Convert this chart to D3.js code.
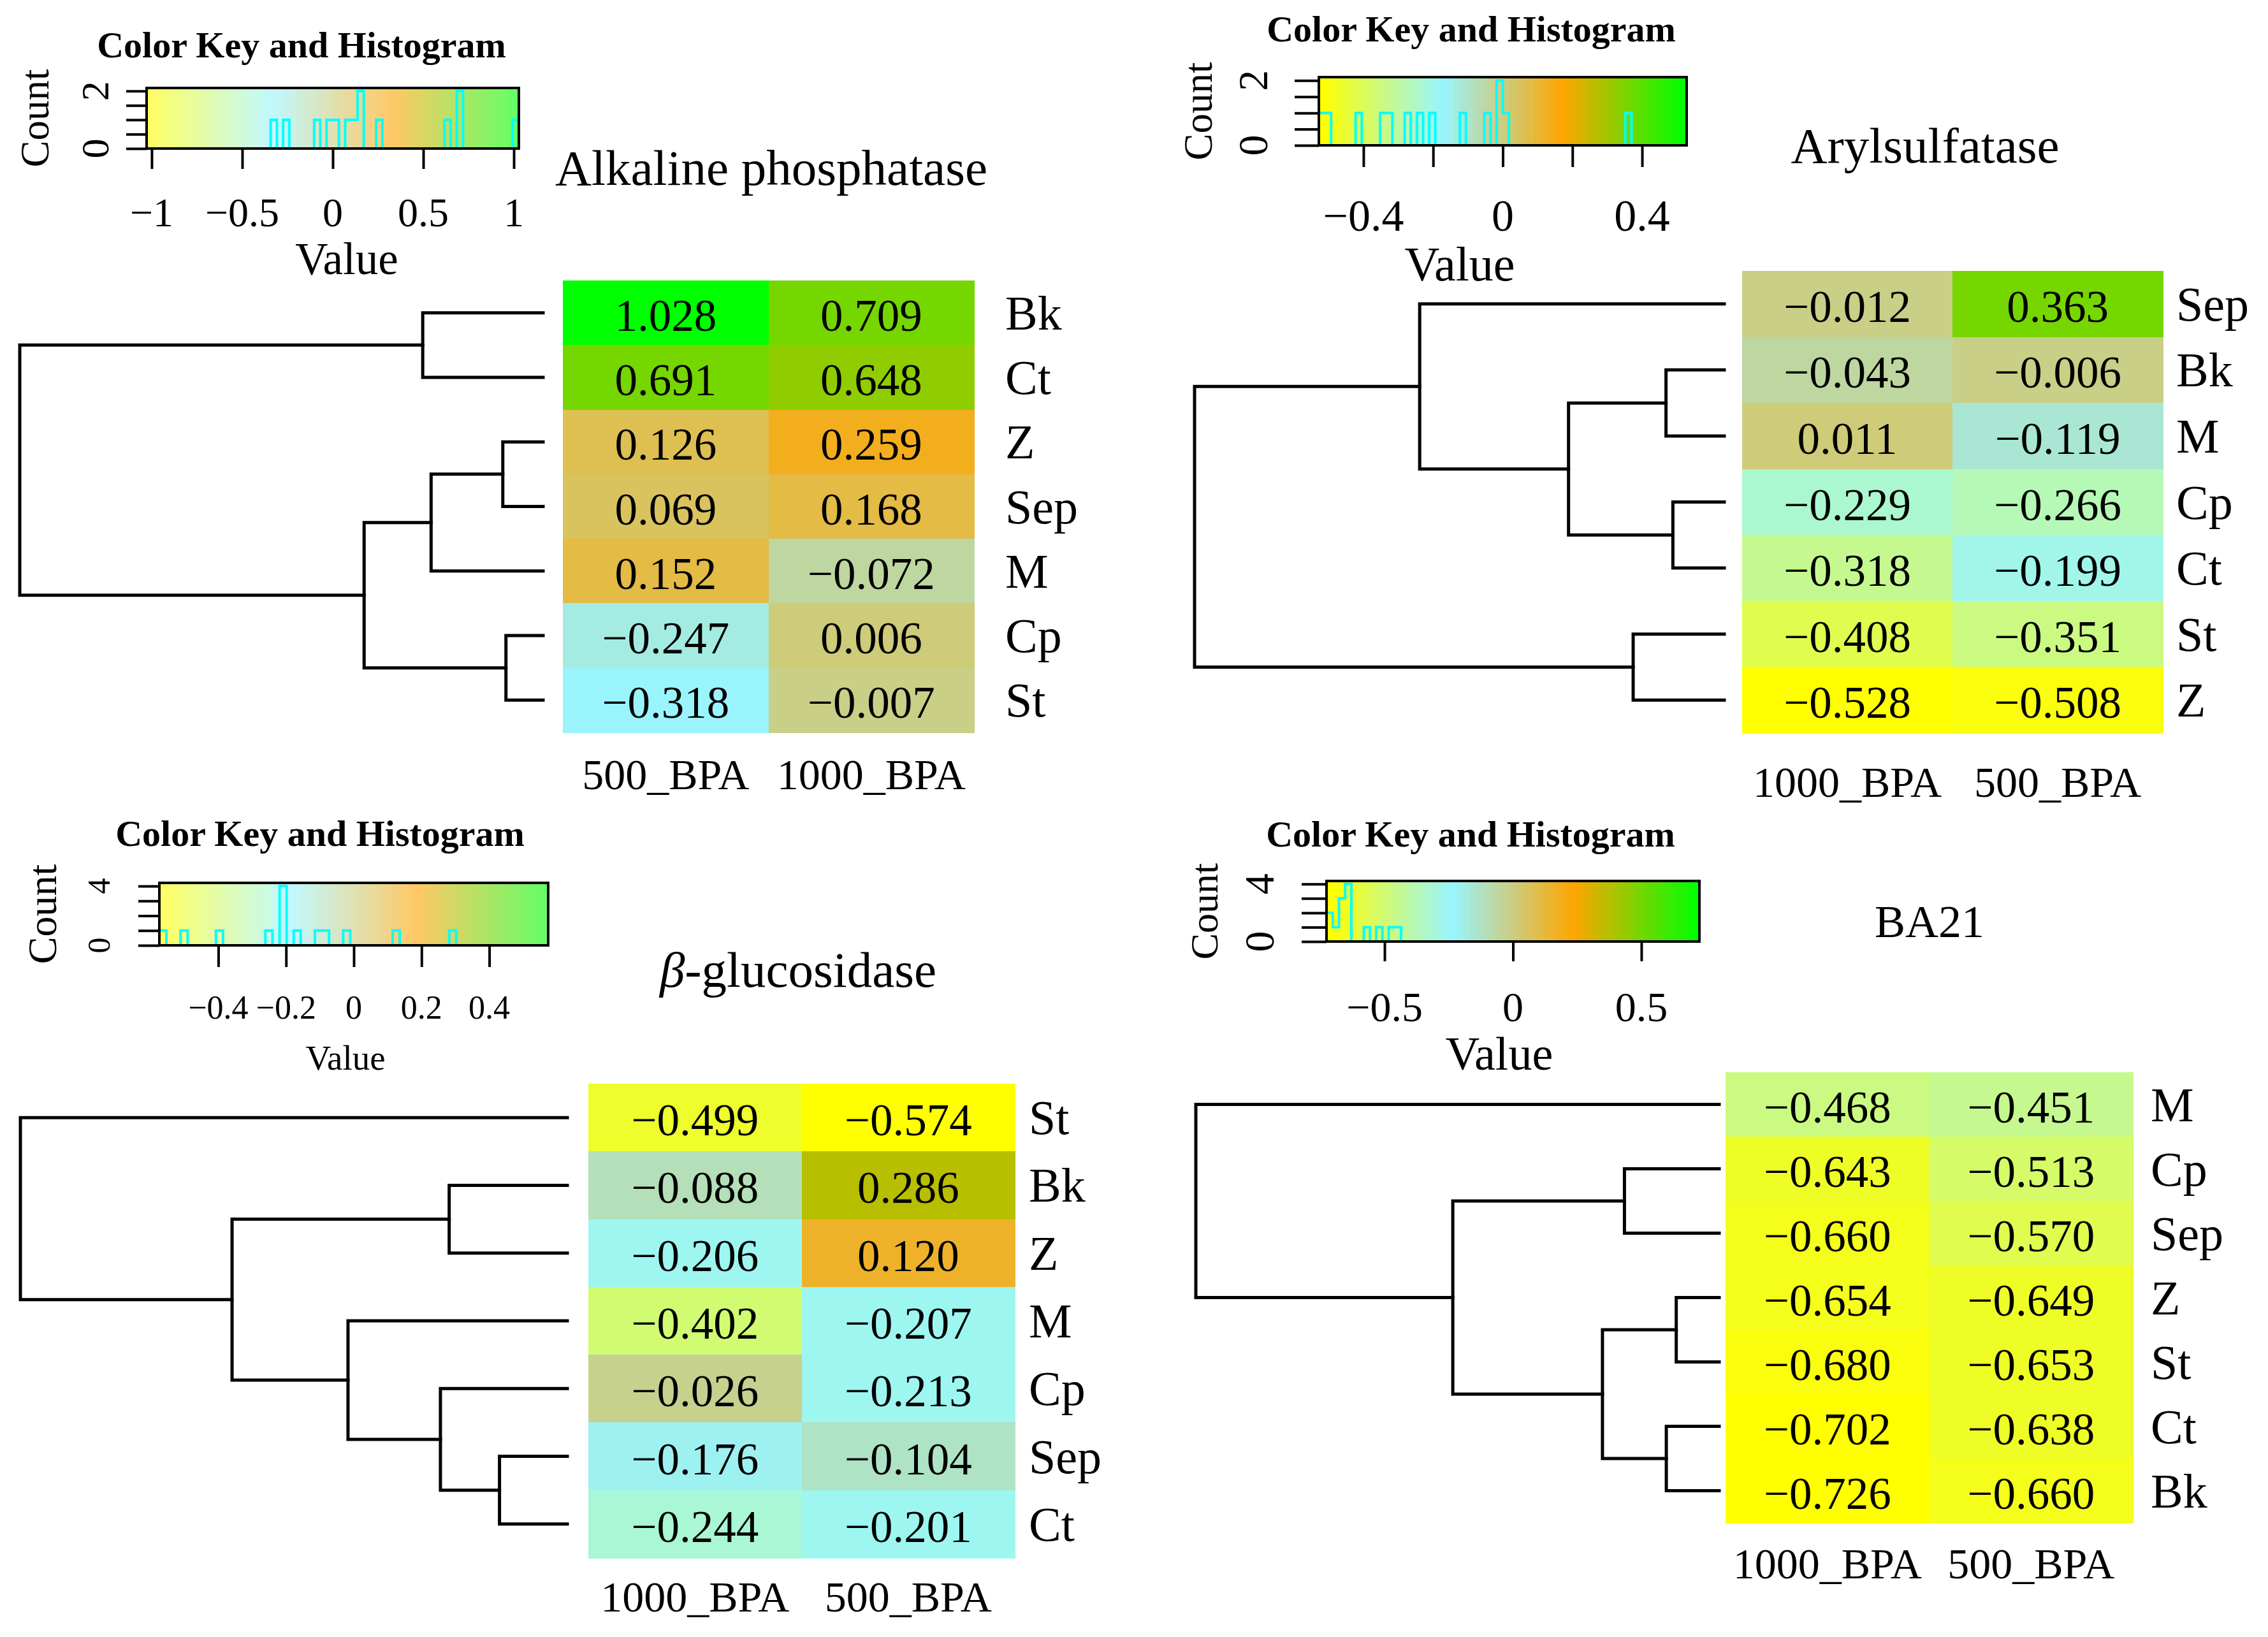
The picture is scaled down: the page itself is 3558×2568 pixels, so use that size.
<!DOCTYPE html>
<html><head><meta charset="utf-8">
<script src="https://cdn.jsdelivr.net/npm/d3@7"></script>
<style>
body{margin:0;background:#fff}
svg{display:block}
text{font-family:"Liberation Serif","Times New Roman",serif;fill:#000}
</style>
</head><body>
<svg id="chart" width="3558" height="2568"></svg>
<script>
// ---------------- DATA ----------------
const palette4 = ["#FFFF00", "#98F5FF", "#FFA500", "#00FF00"];
const binCounts = [60, 60, 55, 60];

const title1 = "Alkaline phosphatase";
const rows1 = ["Bk", "Ct", "Z", "Sep", "M", "Cp", "St"];
const cols1 = ["500_BPA", "1000_BPA"];
const valsA1 = [1.028, 0.691, 0.126, 0.069, 0.152, -0.247, -0.318];
const valsB1 = [0.709, 0.648, 0.259, 0.168, -0.072, 0.006, -0.007];
const merges1 = [["Bk","Ct",0.230],["Z","Sep",0.077],[1,"M",0.214],["Cp","St",0.071],[2,3,0.342],[0,4,1]];
const keyTicks1 = [-1, -0.5, 0, 0.5, 1];
const keyLabels1 = ["\u22121", "\u22120.5", "0", "0.5", "1"];

const title2 = "Arylsulfatase";
const rows2 = ["Sep", "Bk", "M", "Cp", "Ct", "St", "Z"];
const cols2 = ["1000_BPA", "500_BPA"];
const valsA2 = [-0.012, -0.043, 0.011, -0.229, -0.318, -0.408, -0.528];
const valsB2 = [0.363, -0.006, -0.119, -0.266, -0.199, -0.351, -0.508];
const merges2 = [["Bk","M",0.110],["Cp","Ct",0.097],[0,1,0.294],["Sep",2,0.575],["St","Z",0.172],[3,4,1]];
const keyTicks2 = [-0.4, -0.2, 0, 0.2, 0.4];
const keyLabels2 = ["\u22120.4", "", "0", "", "0.4"];

const title3 = "glucosidase"; // preceded by italic β-
const rows3 = ["St", "Bk", "Z", "M", "Cp", "Sep", "Ct"];
const cols3 = ["1000_BPA", "500_BPA"];
const valsA3 = [-0.499, -0.088, -0.206, -0.402, -0.026, -0.176, -0.244];
const valsB3 = [-0.574, 0.286, 0.120, -0.207, -0.213, -0.104, -0.201];
const merges3 = [["Bk","Z",0.216],["Sep","Ct",0.124],["Cp",1,0.232],["M",2,0.401],[0,3,0.613],["St",4,1]];
const keyTicks3 = [-0.4, -0.2, 0, 0.2, 0.4];
const keyLabels3 = ["\u22120.4", "\u22120.2", "0", "0.2", "0.4"];

const title4 = "BA21";
const rows4 = ["M", "Cp", "Sep", "Z", "St", "Ct", "Bk"];
const cols4 = ["1000_BPA", "500_BPA"];
const valsA4 = [-0.468, -0.643, -0.660, -0.654, -0.680, -0.702, -0.726];
const valsB4 = [-0.451, -0.513, -0.570, -0.649, -0.653, -0.638, -0.660];
const merges4 = [["Cp","Sep",0.181],["Z","St",0.082],["Ct","Bk",0.101],[1,2,0.223],[0,3,0.509],["M",4,1]];
const keyTicks4 = [-0.5, 0, 0.5];
const keyLabels4 = ["\u22120.5", "0", "0.5"];

// ---------------- LAYOUT ----------------
const panels = [
  {title: title1, italicPrefix: "", rows: rows1, cols: cols1, vals: [valsA1, valsB1], merges: merges1, ticks: keyTicks1, labels: keyLabels1, nBins: binCounts[0],
   titlePos: {x: 1210, y: 290, size: 79},
   key: {x0: 230, x1: 814, y0: 138, y1: 233, tX: 473, tY: 90, tickLen: 32, tickFont: 64, tickY: 355, valX: 544, valY: 430, valFont: 71,
         cntX: 55, cntFont: 63, cntLabX: 149, cntLabFont: 62, cntTick: 32, opacity: 0.6},
   heat: {x0: 883, x1: 1528, y0: 440, y1: 1149, leafX: 852, rootX: 31, rowLabX: 1577, colLabY: 1238}},
  {title: title2, italicPrefix: "", rows: rows2, cols: cols2, vals: [valsA2, valsB2], merges: merges2, ticks: keyTicks2, labels: keyLabels2, nBins: binCounts[1],
   titlePos: {x: 3020, y: 255, size: 79},
   key: {x0: 2069, x1: 2646, y0: 121, y1: 228, tX: 2308, tY: 65, tickLen: 34, tickFont: 70, tickY: 362, valX: 2290, valY: 440, valFont: 76,
         cntX: 1880, cntFont: 63, cntLabX: 1965, cntLabFont: 66, cntTick: 38, opacity: 1},
   heat: {x0: 2733, x1: 3393, y0: 425, y1: 1150, leafX: 2705, rootX: 1874, rowLabX: 3414, colLabY: 1250}},
  {title: title3, italicPrefix: "\u03B2", rows: rows3, cols: cols3, vals: [valsA3, valsB3], merges: merges3, ticks: keyTicks3, labels: keyLabels3, nBins: binCounts[2],
   titlePos: {x: 1252, y: 1548, size: 79},
   key: {x0: 250, x1: 860, y0: 1385, y1: 1483, tX: 502, tY: 1327, tickLen: 34, tickFont: 52, tickY: 1598, valX: 542, valY: 1678, valFont: 55,
         cntX: 66, cntFont: 64, cntLabX: 155, cntLabFont: 50, cntTick: 33, opacity: 0.6},
   heat: {x0: 923, x1: 1592, y0: 1700, y1: 2444, leafX: 890, rootX: 32, rowLabX: 1614, colLabY: 2528}},
  {title: title4, italicPrefix: "", rows: rows4, cols: cols4, vals: [valsA4, valsB4], merges: merges4, ticks: keyTicks4, labels: keyLabels4, nBins: binCounts[3],
   titlePos: {x: 3027, y: 1470, size: 72},
   key: {x0: 2081, x1: 2666, y0: 1382, y1: 1477, tX: 2307, tY: 1328, tickLen: 31, tickFont: 66, tickY: 1602, valX: 2352, valY: 1678, valFont: 74,
         cntX: 1889, cntFont: 62, cntLabX: 1975, cntLabFont: 66, cntTick: 39, opacity: 1},
   heat: {x0: 2707, x1: 3346, y0: 1682, y1: 2389, leafX: 2697, rootX: 1876, rowLabX: 3374, colLabY: 2476}}
];

const svg = d3.select("#chart");
const fmt = d3.format(".3f");

panels.forEach(p => {
  const g = svg.append("g");
  const nBins = p.nBins;
  const all = p.vals[0].concat(p.vals[1]);
  const m = d3.max(all, v => Math.abs(v));
  const ramp = d3.scaleLinear().domain([0, 1/3, 2/3, 1]).range(palette4).interpolate(d3.interpolateRgb);
  const pal = d3.range(nBins).map(i => ramp(i / (nBins - 1)));
  const colorQ = d3.scaleQuantize().domain([-m, m]).range(pal);
  const breaks = d3.range(nBins + 1).map(i => -m + i * 2 * m / nBins);

  // ---------- Title ----------
  const tt = g.append("text").attr("x", p.titlePos.x).attr("y", p.titlePos.y)
    .attr("text-anchor", "middle").attr("font-size", p.titlePos.size);
  if (p.italicPrefix) {
    tt.append("tspan").attr("font-style", "italic").text(p.italicPrefix);
    tt.append("tspan").text("-" + p.title);
  } else tt.text(p.title);

  // ---------- Color key ----------
  const k = p.key;
  const kx = d3.scaleLinear().domain([-m, m]).range([k.x0, k.x1]);
  const kg = g.append("g");
  kg.append("g").attr("opacity", k.opacity).selectAll("rect").data(pal).join("rect")
    .attr("x", (d, i) => kx(breaks[i]))
    .attr("y", k.y0)
    .attr("width", (d, i) => kx(breaks[i + 1]) - kx(breaks[i]) + 0.8)
    .attr("height", k.y1 - k.y0)
    .attr("fill", d => d)
    .attr("shape-rendering", "crispEdges");

  // histogram
  const bins = d3.bin().domain([-m, m]).thresholds(breaks.slice(1, -1))(all);
  const counts = bins.map(b => b.length);
  const maxC = d3.max(counts);
  const ky = d3.scaleLinear().domain([0, maxC / 0.95]).range([k.y1, k.y0]);
  const pts = bins.map(b => [b.x0, b.length]);
  pts.push([m, counts[counts.length - 1]]);
  kg.append("path").datum(pts)
    .attr("d", d3.line().x(d => kx(d[0])).y(d => ky(d[1])).curve(d3.curveStepAfter))
    .attr("fill", "none").attr("stroke", "#00FFFF").attr("stroke-width", 4);

  kg.append("rect").attr("x", k.x0).attr("y", k.y0).attr("width", k.x1 - k.x0).attr("height", k.y1 - k.y0)
    .attr("fill", "none").attr("stroke", "#000").attr("stroke-width", 4);

  // count axis
  const cTicks = d3.ticks(0, maxC, 4);
  const yAxis = d3.axisLeft(ky).tickValues(cTicks).tickSize(k.cntTick).tickFormat("");
  const ya = kg.append("g").attr("transform", `translate(${k.x0},0)`).call(yAxis);
  ya.select(".domain").remove();
  ya.selectAll("line").attr("stroke", "#000").attr("stroke-width", 4);
  kg.selectAll(".cntlab").data([0, maxC]).join("text")
    .attr("transform", d => `translate(${k.cntLabX},${ky(d)}) rotate(-90)`)
    .attr("text-anchor", "middle").attr("dominant-baseline", "central")
    .attr("font-size", k.cntLabFont).text(d => d);
  kg.append("text")
    .attr("transform", `translate(${k.cntX},${(k.y0 + k.y1) / 2}) rotate(-90)`)
    .attr("text-anchor", "middle").attr("dominant-baseline", "central")
    .attr("font-size", k.cntFont).text("Count");

  // value axis
  const xAxis = d3.axisBottom(kx).tickValues(p.ticks).tickSize(k.tickLen).tickFormat("");
  const xa = kg.append("g").attr("transform", `translate(0,${k.y1})`).call(xAxis);
  xa.select(".domain").remove();
  xa.selectAll("line").attr("stroke", "#000").attr("stroke-width", 4);
  kg.selectAll(".vlab").data(p.ticks).join("text")
    .attr("x", d => kx(d)).attr("y", k.tickY).attr("text-anchor", "middle")
    .attr("font-size", k.tickFont).text((d, i) => p.labels[i]);
  kg.append("text").attr("x", k.valX).attr("y", k.valY).attr("text-anchor", "middle")
    .attr("font-size", k.valFont).text("Value");
  kg.append("text").attr("x", k.tX).attr("y", k.tY).attr("text-anchor", "middle")
    .attr("font-size", 58).attr("font-weight", "bold").text("Color Key and Histogram");

  // ---------- Heatmap ----------
  const h = p.heat;
  const xb = d3.scaleBand().domain(p.cols).range([h.x0, h.x1]);
  const yb = d3.scaleBand().domain(p.rows).range([h.y0, h.y1]);
  const cells = [];
  p.rows.forEach((r, i) => p.cols.forEach((c, j) => cells.push({r, c, v: p.vals[j][i]})));
  g.append("g").selectAll("rect").data(cells).join("rect")
    .attr("x", d => xb(d.c)).attr("y", d => yb(d.r))
    .attr("width", xb.bandwidth() + 0.5).attr("height", yb.bandwidth() + 0.5)
    .attr("fill", d => colorQ(d.v)).attr("shape-rendering", "crispEdges");
  g.append("g").selectAll("text").data(cells).join("text")
    .attr("x", d => xb(d.c) + xb.bandwidth() / 2)
    .attr("y", d => yb(d.r) + yb.bandwidth() / 2 + 4)
    .attr("text-anchor", "middle").attr("dominant-baseline", "central")
    .attr("font-size", 71).text(d => fmt(d.v));

  // row labels
  g.append("g").selectAll("text").data(p.rows).join("text")
    .attr("x", h.rowLabX).attr("y", d => yb(d) + yb.bandwidth() / 2)
    .attr("dominant-baseline", "central").attr("font-size", 76).text(d => d);
  // column labels
  g.append("g").selectAll("text").data(p.cols).join("text")
    .attr("x", d => xb(d) + xb.bandwidth() / 2).attr("y", h.colLabY)
    .attr("text-anchor", "middle").attr("font-size", 68).text(d => d);

  // ---------- Dendrogram ----------
  const hx = d3.scaleLinear().domain([0, d3.max(p.merges, d => d[2])]).range([h.leafX, h.rootX]);
  const nodes = [];
  const pos = ref => (typeof ref === "number") ? nodes[ref]
    : {x: h.leafX, y: yb(ref) + yb.bandwidth() / 2};
  const segs = [];
  p.merges.forEach(mg => {
    const a = pos(mg[0]), b = pos(mg[1]);
    const x = hx(mg[2]);
    nodes.push({x, y: (a.y + b.y) / 2});
    segs.push(`M${a.x},${a.y}H${x}V${b.y}H${b.x}`);
  });
  g.append("g").selectAll("path").data(segs).join("path")
    .attr("d", d => d).attr("fill", "none").attr("stroke", "#000")
    .attr("stroke-width", 5).attr("stroke-linecap", "square");
});
</script>
</body></html>
